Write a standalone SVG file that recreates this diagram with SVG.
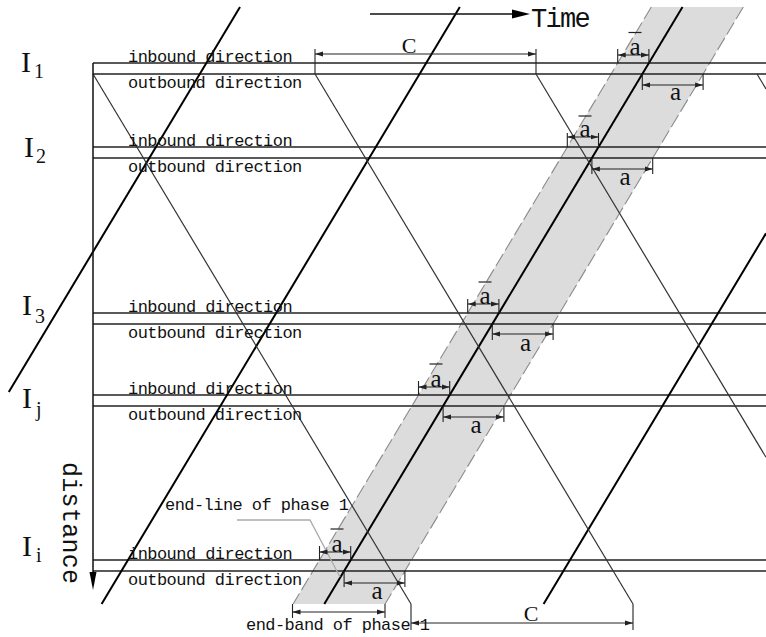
<svg xmlns="http://www.w3.org/2000/svg" width="766" height="637" viewBox="0 0 766 637">
<defs>
<marker id="dimArrow" viewBox="0 0 8 6" refX="8" refY="3" markerWidth="8" markerHeight="6" markerUnits="userSpaceOnUse" orient="auto-start-reverse">
<path d="M0,0.5 L8,3 L0,5.5 Z" fill="#222"/>
</marker>
</defs>
<style>
.mono{font-family:"Liberation Mono","DejaVu Sans Mono",monospace;font-size:17px;letter-spacing:-0.55px;fill:#111}
.serif{font-family:"Liberation Serif","DejaVu Serif",serif;fill:#111}
.road{stroke:#222;stroke-width:1.4;fill:none}
.thick{stroke:#000;stroke-width:2;fill:none}
.thin{stroke:#333;stroke-width:1.2;fill:none}
.dim{stroke:#222;stroke-width:1;fill:none;marker-start:url(#dimArrow);marker-end:url(#dimArrow)}
.tick{stroke:#222;stroke-width:1.1;fill:none}
.bar{stroke:#222;stroke-width:1.2}
.lbl{font-family:"Liberation Serif","DejaVu Serif",serif;font-size:25px;fill:#111;text-anchor:middle}
</style>
<rect x="0" y="0" width="766" height="637" fill="#fff"/>

<!-- green band -->
<g id="band">
<polygon points="651.3,7 743.3,7 385.1,604 293.1,604" fill="#dcdcdc"/>
<line x1="651.3" y1="7" x2="293.1" y2="604" stroke="#8a8a8a" stroke-width="1.1" stroke-dasharray="14 4"/>
<line x1="743.3" y1="7" x2="385.1" y2="604" stroke="#8a8a8a" stroke-width="1.1" stroke-dasharray="14 4"/>
</g>

<!-- road lines at intersections -->
<g id="roads">
<line class="road" x1="93" y1="63" x2="766" y2="63"/>
<line class="road" x1="93" y1="74" x2="766" y2="74"/>
<line class="road" x1="93" y1="147" x2="766" y2="147"/>
<line class="road" x1="93" y1="158" x2="766" y2="158"/>
<line class="road" x1="93" y1="313" x2="766" y2="313"/>
<line class="road" x1="93" y1="324" x2="766" y2="324"/>
<line class="road" x1="93" y1="395" x2="766" y2="395"/>
<line class="road" x1="93" y1="406" x2="766" y2="406"/>
<line class="road" x1="93" y1="560" x2="766" y2="560"/>
<line class="road" x1="93" y1="571" x2="766" y2="571"/>
</g>

<!-- connectors: trajectories -->
<g id="connectors">
<line class="thick" x1="240" y1="7" x2="8.8" y2="392"/>
<line class="thick" x1="459.8" y1="7" x2="101.6" y2="604"/>
<line class="thick" x1="682.5" y1="7" x2="324.3" y2="604"/>
<line class="thick" x1="766" y1="233.3" x2="543.6" y2="604"/>
<line class="thin" x1="93" y1="74" x2="411" y2="604"/>
<line class="thin" x1="315" y1="74" x2="633" y2="604"/>
<line class="thin" x1="536" y1="74" x2="766" y2="457.3"/>
<line class="thin" x1="757" y1="74" x2="766" y2="89"/>
<polyline points="237,520 310,520 340,577" fill="none" stroke="#aaa" stroke-width="1.3"/>
</g>

<!-- axes -->
<g id="axes">
<line x1="93" y1="63" x2="93" y2="574" stroke="#111" stroke-width="1.5"/>
<polygon points="89.5,572 96.5,572 93,590" fill="#000"/>
<text class="mono" style="font-size:25px;letter-spacing:0.3px" transform="translate(63,462) rotate(90)">distance</text>
<line x1="370" y1="14" x2="513" y2="14" stroke="#111" stroke-width="1.5"/>
<polygon points="512,9.5 530,14 512,18.5" fill="#000"/>
<text class="mono" style="font-size:27px;letter-spacing:-1.7px" x="531" y="27">Time</text>
</g>

<!-- intersection labels -->
<g id="I1">
<text class="serif" x="21" y="72" font-size="30">I</text><text class="serif" x="34" y="78" font-size="20">1</text>
<text class="mono" x="128" y="62">inbound direction</text>
<text class="mono" x="128" y="88">outbound direction</text>
</g>
<g id="I2">
<text class="serif" x="24" y="157" font-size="30">I</text><text class="serif" x="36" y="163" font-size="20">2</text>
<text class="mono" x="128" y="146">inbound direction</text>
<text class="mono" x="128" y="172">outbound direction</text>
</g>
<g id="I3">
<text class="serif" x="22" y="315" font-size="30">I</text><text class="serif" x="35" y="323" font-size="20">3</text>
<text class="mono" x="128" y="312">inbound direction</text>
<text class="mono" x="128" y="338">outbound direction</text>
</g>
<g id="Ij">
<text class="serif" x="22" y="408" font-size="30">I</text><text class="serif" x="36" y="416" font-size="20">j</text>
<text class="mono" x="128" y="394">inbound direction</text>
<text class="mono" x="128" y="420">outbound direction</text>
</g>
<g id="Ii">
<text class="serif" x="22" y="556" font-size="30">I</text><text class="serif" x="36" y="562" font-size="20">i</text>
<text class="mono" x="128" y="559">inbound direction</text>
<text class="mono" x="128" y="585">outbound direction</text>
</g>

<!-- cycle dimensions -->
<g id="cycle-top">
<line class="tick" x1="315" y1="49" x2="315" y2="74"/>
<line class="tick" x1="536" y1="49" x2="536" y2="74"/>
<line class="dim" x1="315" y1="54" x2="536" y2="54"/>
<text class="serif" x="409" y="53" font-size="22" text-anchor="middle">C</text>
</g>
<g id="cycle-bottom">
<line class="tick" x1="411" y1="604" x2="411" y2="630"/>
<line class="tick" x1="633" y1="604" x2="633" y2="630"/>
<line class="dim" x1="411" y1="623" x2="633" y2="623"/>
<text class="serif" x="531" y="621" font-size="22" text-anchor="middle">C</text>
</g>
<g id="end-band">
<line class="tick" x1="292.5" y1="604" x2="292.5" y2="618"/>
<line class="tick" x1="385" y1="604" x2="385" y2="618"/>
<line class="dim" x1="292.5" y1="612" x2="385" y2="612"/>
<text class="mono" x="246" y="630">end-band of phase 1</text>
</g>
<g id="end-line">
<text class="mono" x="165" y="510">end-line of phase 1</text>
</g>

<!-- a-bar / a dimensions -->
<g id="dims-I1">
<line class="tick" x1="617.7" y1="49" x2="617.7" y2="63"/><line class="tick" x1="648.9" y1="49" x2="648.9" y2="63"/>
<line class="dim" x1="617.7" y1="55" x2="648.9" y2="55"/>
<text class="lbl" x="635" y="55">a</text><line class="bar" x1="628.5" y1="32.5" x2="641.5" y2="32.5"/>
<line class="tick" x1="642.3" y1="74" x2="642.3" y2="90"/><line class="tick" x1="703.1" y1="74" x2="703.1" y2="90"/>
<line class="dim" x1="642.3" y1="85" x2="703.1" y2="85"/>
<text class="lbl" x="675.5" y="100">a</text>
</g>
<g id="dims-I2">
<line class="tick" x1="567.3" y1="133" x2="567.3" y2="147"/><line class="tick" x1="598.5" y1="133" x2="598.5" y2="147"/>
<line class="dim" x1="567.3" y1="137" x2="598.5" y2="137"/>
<text class="lbl" x="585" y="137">a</text><line class="bar" x1="578.5" y1="116" x2="591.5" y2="116"/>
<line class="tick" x1="591.9" y1="158" x2="591.9" y2="174"/><line class="tick" x1="652.7" y1="158" x2="652.7" y2="174"/>
<line class="dim" x1="591.9" y1="169" x2="652.7" y2="169"/>
<text class="lbl" x="625" y="185">a</text>
</g>
<g id="dims-I3">
<line class="tick" x1="467.7" y1="299" x2="467.7" y2="313"/><line class="tick" x1="498.9" y1="299" x2="498.9" y2="313"/>
<line class="dim" x1="467.7" y1="304" x2="498.9" y2="304"/>
<text class="lbl" x="485" y="304">a</text><line class="bar" x1="478.5" y1="282" x2="491.5" y2="282"/>
<line class="tick" x1="492.3" y1="324" x2="492.3" y2="340"/><line class="tick" x1="553.1" y1="324" x2="553.1" y2="340"/>
<line class="dim" x1="492.3" y1="334" x2="553.1" y2="334"/>
<text class="lbl" x="525.5" y="351">a</text>
</g>
<g id="dims-Ij">
<line class="tick" x1="418.5" y1="381" x2="418.5" y2="395"/><line class="tick" x1="449.7" y1="381" x2="449.7" y2="395"/>
<line class="dim" x1="418.5" y1="387" x2="449.7" y2="387"/>
<text class="lbl" x="436" y="387">a</text><line class="bar" x1="429.5" y1="364" x2="442.5" y2="364"/>
<line class="tick" x1="443.1" y1="406" x2="443.1" y2="422"/><line class="tick" x1="503.9" y1="406" x2="503.9" y2="422"/>
<line class="dim" x1="443.1" y1="417" x2="503.9" y2="417"/>
<text class="lbl" x="476" y="433">a</text>
</g>
<g id="dims-Ii">
<line class="tick" x1="319.5" y1="546" x2="319.5" y2="560"/><line class="tick" x1="350.7" y1="546" x2="350.7" y2="560"/>
<line class="dim" x1="319.5" y1="552" x2="350.7" y2="552"/>
<text class="lbl" x="337" y="552">a</text><line class="bar" x1="330.5" y1="529" x2="343.5" y2="529"/>
<line class="tick" x1="344.1" y1="571" x2="344.1" y2="587"/><line class="tick" x1="404.9" y1="571" x2="404.9" y2="587"/>
<line class="dim" x1="344.1" y1="583" x2="404.9" y2="583"/>
<text class="lbl" x="377" y="599">a</text>
</g>
</svg>
